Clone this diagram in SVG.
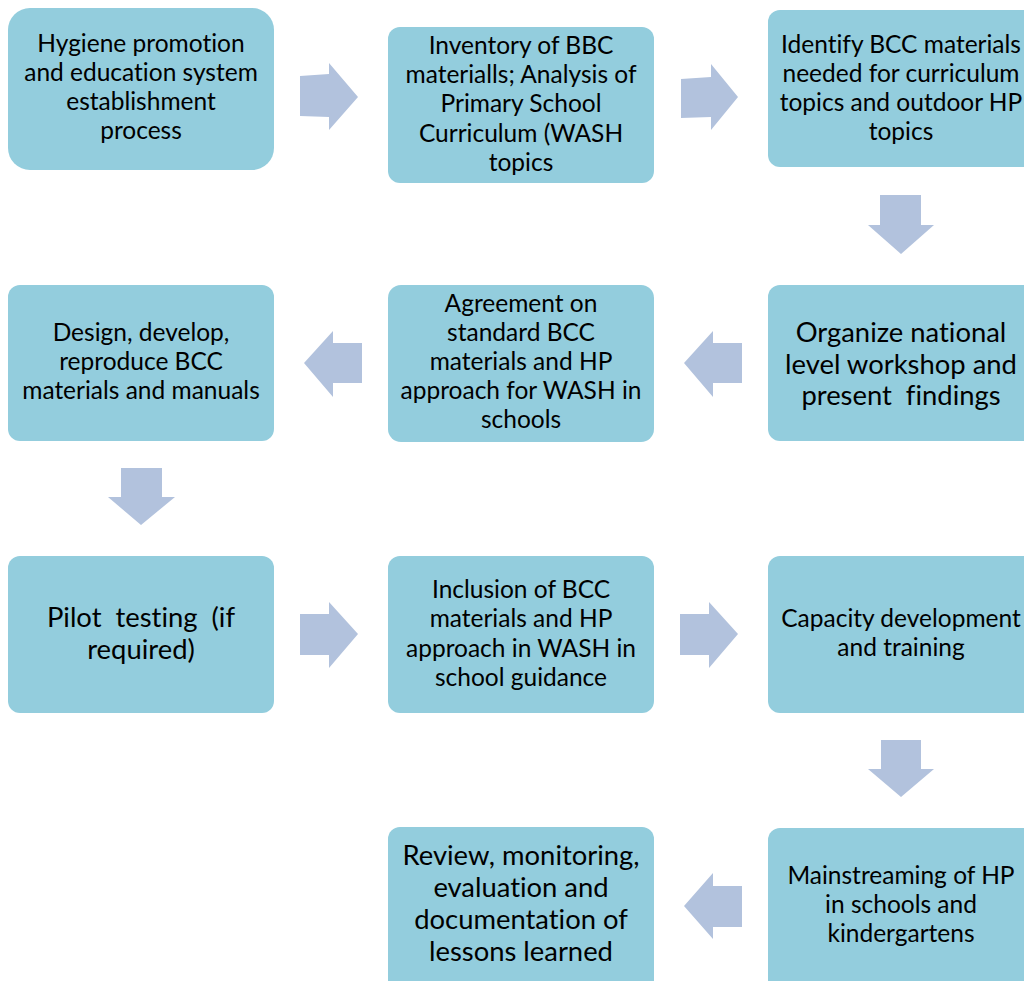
<svg xmlns="http://www.w3.org/2000/svg" width="1024" height="981" viewBox="0 0 1024 981">
<style>
.box{fill:#93CDDD}
.arr{fill:#B2C2DD}
text{font-family:Lato,"Liberation Sans",sans-serif;fill:#000;text-anchor:middle;font-variant-ligatures:none;font-feature-settings:"liga" 0,"dlig" 0}
.s{font-size:24.5px}
.l{font-size:27.4px}
</style>
<rect width="1024" height="981" fill="#fff"/>
<g id="connectors">
<polygon class="arr" points="300,76 329,74 329,63 358,97 329,130 329,117 300,116"/>
<polygon class="arr" points="681,79 711,77 711,64 738,97 711,130 711,117 681,118"/>
<polygon class="arr" points="880,195 921,195 921,225 934,225 901,254 868,225 880,225"/>
<polygon class="arr" points="362,343 333,343 333,331 304,363 333,397 333,383 362,383"/>
<polygon class="arr" points="742,343 713,343 713,331 684,363 713,397 713,383 742,383"/>
<polygon class="arr" points="121,468 162,468 162,497 175,497 141,525 108,497 121,497"/>
<polygon class="arr" points="300,614 329,614 329,602 358,634 329,668 329,655 300,655"/>
<polygon class="arr" points="680,614 709,614 709,602 738,634 709,668 709,655 680,655"/>
<polygon class="arr" points="881,740 921,740 921,769 934,769 901,797 868,769 881,769"/>
<polygon class="arr" points="742,886 713,886 713,873 684,906 713,939 713,927 742,927"/>
</g>
<g id="n1"><rect class="box" x="8" y="8" width="266" height="162" rx="22"/>
<text class="s" x="141" y="52">Hygiene promotion</text><text class="s" x="141" y="81">and education system</text><text class="s" x="141" y="110">establishment</text><text class="s" x="141" y="139">process</text></g>
<g id="n2"><rect class="box" x="388" y="27" width="266" height="156" rx="12"/>
<text class="s" x="521" y="54">Inventory of BBC</text><text class="s" x="521" y="83">materialls; Analysis of</text><text class="s" x="521" y="112">Primary School</text><text class="s" x="521" y="142">Curriculum (WASH</text><text class="s" x="521" y="171">topics</text></g>
<g id="n3"><rect class="box" x="768" y="10" width="276" height="157" rx="12"/>
<text class="s" x="901" y="53">Identify BCC materials</text><text class="s" x="901" y="82">needed for curriculum</text><text class="s" x="901" y="111">topics and outdoor HP</text><text class="s" x="901" y="140">topics</text></g>
<g id="n4"><rect class="box" x="8" y="285" width="266" height="156" rx="12"/>
<text class="s" x="141" y="341">Design, develop,</text><text class="s" x="141" y="370">reproduce BCC</text><text class="s" x="141" y="399">materials and manuals</text></g>
<g id="n5"><rect class="box" x="388" y="285" width="266" height="157" rx="13"/>
<text class="s" x="521" y="312">Agreement on</text><text class="s" x="521" y="341">standard BCC</text><text class="s" x="521" y="370">materials and HP</text><text class="s" x="521" y="399">approach for WASH in</text><text class="s" x="521" y="428">schools</text></g>
<g id="n6"><rect class="box" x="768" y="285" width="276" height="156" rx="12"/>
<text class="l" x="901" y="342">Organize national</text><text class="l" x="901" y="374">level workshop and</text><text class="l" x="901" y="405" xml:space="preserve">present  findings</text></g>
<g id="n7"><rect class="box" x="8" y="556" width="266" height="157" rx="12"/>
<text class="l" x="141" y="627" xml:space="preserve">Pilot  testing  (if</text><text class="l" x="141" y="659">required)</text></g>
<g id="n8"><rect class="box" x="388" y="556" width="266" height="157" rx="12"/>
<text class="s" x="521" y="598">Inclusion of BCC</text><text class="s" x="521" y="627">materials and HP</text><text class="s" x="521" y="657">approach in WASH in</text><text class="s" x="521" y="686">school guidance</text></g>
<g id="n9"><rect class="box" x="768" y="556" width="276" height="157" rx="12"/>
<text class="s" x="901" y="627">Capacity development</text><text class="s" x="901" y="656">and training</text></g>
<g id="n10"><rect class="box" x="768" y="828" width="276" height="170" rx="12"/>
<text class="s" x="901" y="884">Mainstreaming of HP</text><text class="s" x="901" y="913">in schools and</text><text class="s" x="901" y="942">kindergartens</text></g>
<g id="n11"><rect class="box" x="388" y="827" width="266" height="170" rx="12"/>
<text class="l" x="521" y="865">Review, monitoring,</text><text class="l" x="521" y="897">evaluation and</text><text class="l" x="521" y="929">documentation of</text><text class="l" x="521" y="961">lessons learned</text></g>
</svg>
